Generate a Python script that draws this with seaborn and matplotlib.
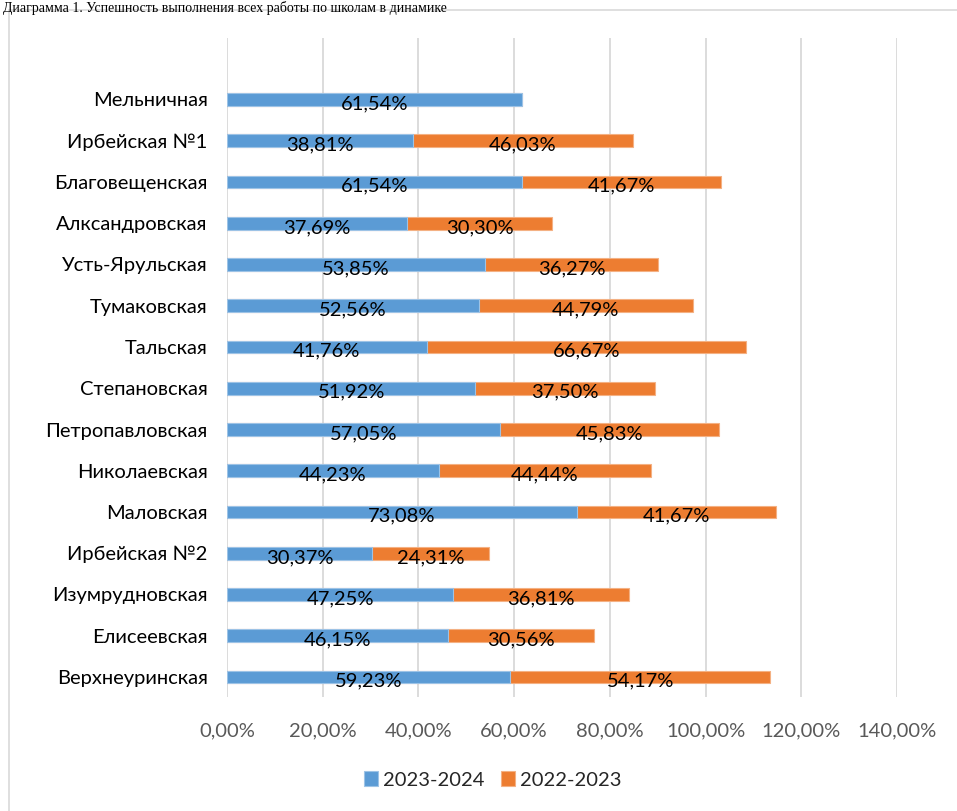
import numpy as np
import pandas as pd
import seaborn as sns
import matplotlib.pyplot as plt
from matplotlib.patches import Rectangle

# Данные по школам (сверху вниз)
schools = ["Мельничная", "Ирбейская №1", "Благовещенская", "Алксандровская",
           "Усть-Ярульская", "Тумаковская", "Тальская", "Степановская",
           "Петропавловская", "Николаевская", "Маловская", "Ирбейская №2",
           "Изумрудновская", "Елисеевская", "Верхнеуринская"]
y2023_2024 = [61.54, 38.81, 61.54, 37.69, 53.85, 52.56, 41.76, 51.92,
              57.05, 44.23, 73.08, 30.37, 47.25, 46.15, 59.23]
y2022_2023 = [np.nan, 46.03, 41.67, 30.30, 36.27, 44.79, 66.67, 37.50,
              45.83, 44.44, 41.67, 24.31, 36.81, 30.56, 54.17]
xticks = [0, 20, 40, 60, 80, 100, 120, 140]

df = pd.DataFrame({"school": schools, "a": y2023_2024, "b": y2022_2023})
df["total"] = df["a"] + df["b"].fillna(0)

blue = "#5B9BD5"
orange = "#ED7D31"

sns.set_theme(style="white")
plt.rcParams["font.family"] = ["Lato", "DejaVu Sans"]

fig = plt.figure(figsize=(9.57, 8.11), dpi=100)
# рамка диаграммы
fig.patches.append(Rectangle((9 / 957, -0.1), 1.1, 1 - 10 / 811 + 0.1,
                             transform=fig.transFigure, fill=False,
                             edgecolor="#D9D9D9", linewidth=1.2))
fig.text(0.003, 0.999, "Диаграмма 1. Успешность выполнения всех работы по школам в динамике",
         ha="left", va="top", fontsize=10, family=["Liberation Serif"], color="black")

ax = fig.add_axes([227 / 957, 1 - 697 / 811, 670 / 957, (697 - 38) / 811])

# оранжевая часть = сумма, синяя поверх
sns.barplot(data=df, y="school", x="total", color=orange, width=0.315, saturation=1,
            orient="h", ax=ax, edgecolor="#F4B183", linewidth=0.8, label="2022-2023")
sns.barplot(data=df, y="school", x="a", color=blue, width=0.315, saturation=1,
            orient="h", ax=ax, edgecolor="#9DC3E6", linewidth=0.8, label="2023-2024")
handles, labels = ax.get_legend_handles_labels()
if ax.legend_ is not None:
    ax.legend_.remove()

for i, row in df.iterrows():
    ax.text(row["a"] / 2, i + 0.1, f"{row['a']:.2f}%".replace(".", ","),
            ha="center", va="center", fontsize=14.5, color="black")
    if not np.isnan(row["b"]):
        ax.text(row["a"] + row["b"] / 2, i + 0.1, f"{row['b']:.2f}%".replace(".", ","),
                ha="center", va="center", fontsize=14.5, color="black")

ax.set_xlim(0, 140)
ax.set_ylim(14 + (697 - 677) / 41.25, -(99.5 - 38) / 41.25)
ax.set_xticks(xticks)
ax.set_xticklabels([f"{t},00%" for t in xticks], color="#595959", fontsize=14.5)
ax.tick_params(axis="x", pad=18, length=0)
ax.tick_params(axis="y", pad=14, length=0, labelsize=14.5, labelcolor="black")
ax.grid(axis="x", color="#D9D9D9", linewidth=1.3)
ax.set_axisbelow(True)
ax.set_xlabel("")
ax.set_ylabel("")
for s in ax.spines.values():
    s.set_visible(False)

order = [labels.index("2023-2024"), labels.index("2022-2023")]
fig.legend([handles[k] for k in order], [labels[k] for k in order],
           loc="center", bbox_to_anchor=(0.515, 1 - 780 / 811), ncol=2, frameon=False,
           fontsize=14.5, handlelength=0.7, handleheight=0.7, handletextpad=0.25,
           columnspacing=0.8)

fig.savefig("out.png", dpi=100)
